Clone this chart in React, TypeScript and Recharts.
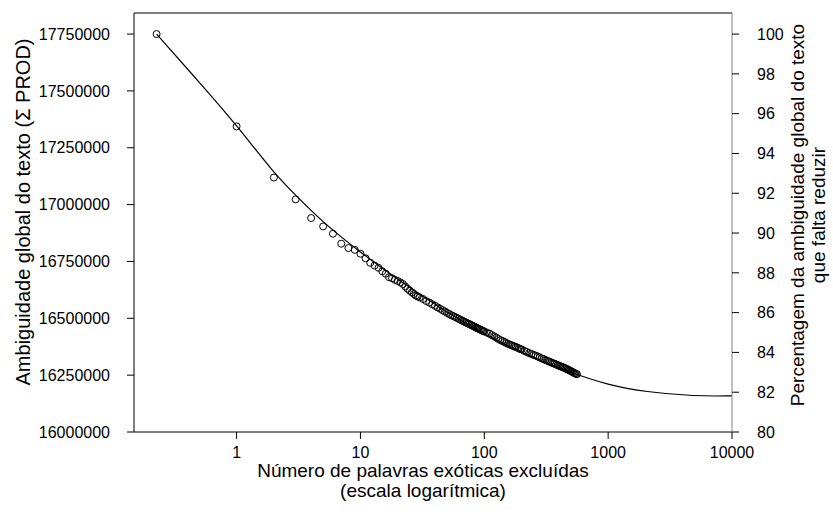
import { ComposedChart, Line, Scatter, XAxis, YAxis, ReferenceLine } from "recharts"

// excluded words (log scale) and total ambiguity, read from the points
const pointX = [
  0.226, 1, 2, 3, 4, 5, 6, 7, 8, 9, 10, 11, 12, 13, 14, 15, 16, 17, 18, 19, 20,
  21, 22, 23, 24, 25, 26, 27, 28, 29, 30, 32, 34, 36, 38, 40, 42, 44, 46, 48, 50,
  52, 54, 56, 58, 60, 62, 64, 66, 68, 70, 72, 74, 76, 78, 80, 82, 84, 86, 88, 90,
  92, 94, 96, 98, 100, 105, 110, 115, 120, 125, 130, 135, 140, 145, 150, 155, 160,
  165, 170, 175, 180, 185, 190, 195, 200, 210, 220, 230, 240, 250, 260, 270, 280,
  290, 300, 310, 320, 330, 340, 350, 360, 370, 380, 390, 400, 410, 420, 430, 440,
  450, 460, 470, 480, 490, 500, 510, 520, 530, 540, 550, 560,
]
const pointY = [
  17750000, 17344000, 17119000, 17023000, 16941000, 16904000, 16872000, 16828000,
  16809000, 16801000, 16784000, 16764000, 16744000, 16732000, 16722000, 16707000,
  16696000, 16681000, 16676000, 16669000, 16664000, 16658000, 16651000, 16640000,
  16630000, 16622000, 16614000, 16607000, 16600000, 16596000, 16592000, 16585000,
  16576000, 16569000, 16562000, 16555000, 16548000, 16542000, 16536000, 16530000,
  16524000, 16519000, 16514000, 16510000, 16506000, 16502000, 16498000, 16494000,
  16490000, 16487000, 16483000, 16480000, 16477000, 16474000, 16471000, 16468000,
  16465000, 16462000, 16459000, 16456000, 16454000, 16451000, 16449000, 16446000,
  16444000, 16442000, 16437000, 16432000, 16426000, 16421000, 16415000, 16409000,
  16404000, 16400000, 16396000, 16392000, 16388000, 16385000, 16382000, 16379000,
  16376000, 16374000, 16371000, 16368000, 16365000, 16363000, 16357000, 16352000,
  16347000, 16343000, 16339000, 16336000, 16332000, 16328000, 16324000, 16321000,
  16317000, 16314000, 16311000, 16308000, 16305000, 16302000, 16300000, 16297000,
  16294000, 16292000, 16289000, 16287000, 16285000, 16283000, 16280000, 16278000,
  16275000, 16273000, 16270000, 16268000, 16265000, 16263000, 16260000, 16258000,
  16256000, 16254000,
]

// fitted curve
const fitX = [0.226, 0.5, 1, 2, 3, 5, 10, 20, 50, 100, 200, 500, 1000, 2000, 5000, 10000]
const fitY = [
  17750000, 17538000, 17350000, 17138000, 17041000, 16920000, 16790000, 16670000,
  16525000, 16432000, 16348000, 16260000, 16207000, 16176000, 16157000, 16159000,
]

const xTicks = [1, 10, 100, 1000, 10000]
const leftTicks = [16000000, 16250000, 16500000, 16750000, 17000000, 17250000, 17500000, 17750000]
const rightTicks = [80, 82, 84, 86, 88, 90, 92, 94, 96, 98, 100]

const points = pointX.map((x, i) => ({ x, y: pointY[i] }))
const fit = fitX.map((x, i) => ({ x, y: fitY[i] }))

const font = "'Liberation Sans', Arial, sans-serif"
const tickStyle = { fontSize: 16, fill: "#000", fontFamily: font }

const Ring = (props: any) => (
  <circle cx={props.cx} cy={props.cy} r={3.5} fill="none" stroke="#000" strokeWidth={1} />
)

export default function App() {
  return (
    <div style={{ position: "absolute", left: 0, top: 0 }}>
      <ComposedChart width={833} height={524} margin={{ top: 13, right: 0, bottom: 0, left: 0 }}>
        <XAxis
          type="number"
          dataKey="x"
          scale="log"
          domain={[0.1485, 10000]}
          allowDataOverflow
          ticks={xTicks}
          height={92}
          tick={tickStyle}
          tickSize={7}
          tickMargin={8}
          stroke="#000"
          label={{
            content: (p: any) => {
              const vb = p.viewBox
              const cx = vb.x + vb.width / 2 - 10
              return (
                <g fontFamily={font} fontSize={19} fill="#000">
                  <text x={cx} y={vb.y + 45} textAnchor="middle">Número de palavras exóticas excluídas</text>
                  <text x={cx} y={vb.y + 65} textAnchor="middle">(escala logarítmica)</text>
                </g>
              )
            },
          }}
        />
        <YAxis
          yAxisId="left"
          type="number"
          domain={[16000000, 17842600]}
          allowDataOverflow
          ticks={leftTicks}
          width={134}
          tick={tickStyle}
          tickSize={7}
          tickMargin={17}
          stroke="#000"
          label={{
            content: () => {
              const cy = 212
              return (
                <text
                  x={23}
                  y={cy}
                  transform={`rotate(-90 23 ${cy})`}
                  textAnchor="middle"
                  dominantBaseline="central"
                  fontFamily={font}
                  fontSize={20}
                  fill="#000"
                >
                  Ambiguidade global do texto (Σ PROD)
                </text>
              )
            },
          }}
        />
        <YAxis
          yAxisId="right"
          orientation="right"
          type="number"
          domain={[80, 101.06]}
          allowDataOverflow
          ticks={rightTicks}
          width={101}
          tick={tickStyle}
          tickSize={7}
          tickMargin={18}
          stroke="#808080"
          tickLine={{ stroke: "#000" }}
          label={{
            content: () => {
              const cy = 215
              return (
                <g fontFamily={font} fontSize={19} fill="#000" textAnchor="middle">
                  <text x={797} y={cy} transform={`rotate(-90 797 ${cy})`} dominantBaseline="central">
                    Percentagem da ambiguidade global do texto
                  </text>
                  <text x={818} y={cy} transform={`rotate(-90 818 ${cy})`} dominantBaseline="central">
                    que falta reduzir
                  </text>
                </g>
              )
            },
          }}
        />
        <ReferenceLine yAxisId="left" y={17842600} stroke="#000" />
        <Line
          yAxisId="left"
          data={fit}
          dataKey="y"
          type="basis"
          stroke="#000"
          strokeWidth={1.2}
          dot={false}
          activeDot={false}
          isAnimationActive={false}
        />
        <Scatter yAxisId="left" data={points} dataKey="y" shape={Ring} isAnimationActive={false} />
      </ComposedChart>
    </div>
  )
}
